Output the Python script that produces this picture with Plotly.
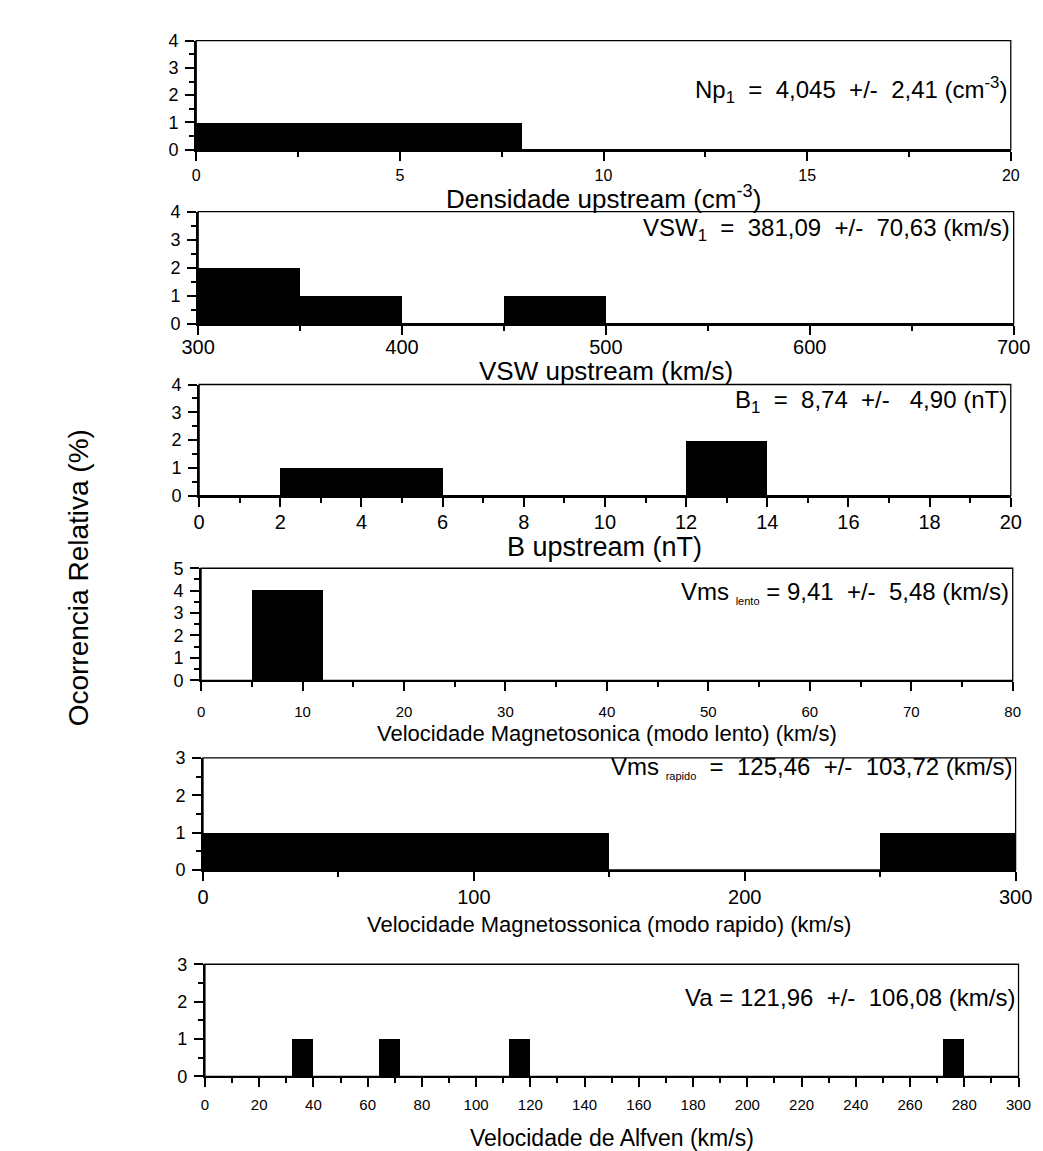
import plotly.graph_objects as go

W, H = 1043, 1151

# ---------------- data (histogram bins: left edge, right edge, count) ----------------
np_lo = [0]
np_hi = [8]
np_cnt = [1]

vsw_lo = [300, 350, 450]
vsw_hi = [350, 400, 500]
vsw_cnt = [2, 1, 1]

b_lo = [2, 12]
b_hi = [6, 14]
b_cnt = [1, 2]

vl_lo = [5]
vl_hi = [12]
vl_cnt = [4]

vr_lo = [0, 250]
vr_hi = [150, 300]
vr_cnt = [1, 1]

va_lo = [32, 64, 112, 272]
va_hi = [40, 72, 120, 280]
va_cnt = [1, 1, 1, 1]

x_titles = [
    "Densidade upstream (cm<sup>-3</sup>)",
    "VSW upstream (km/s)",
    "B upstream (nT)",
    "Velocidade Magnetosonica (modo lento) (km/s)",
    "Velocidade Magnetossonica (modo rapido) (km/s)",
    "Velocidade de Alfven (km/s)",
]
stat_texts = [
    "Np<sub>1</sub>  =  4,045  +/-  2,41 (cm<sup>-3</sup>)",
    "VSW<sub>1</sub>  =  381,09  +/-  70,63 (km/s)",
    "B<sub>1</sub>  =  8,74  +/-   4,90 (nT)",
    "Vms <sub><span style='font-size:11px'>lento</span></sub> = 9,41  +/-  5,48 (km/s)",
    "Vms <sub><span style='font-size:11px'>rapido</span></sub>  =  125,46  +/-  103,72 (km/s)",
    "Va = 121,96  +/-  106,08 (km/s)",
]
y_title = "Ocorrencia Relativa (%)"

x_ranges = [(0, 20), (300, 700), (0, 20), (0, 80), (0, 300), (0, 300)]
x_dticks = [5, 100, 2, 10, 100, 20]
x_minor = [2.5, 50, 1, 5, 50, 10]
y_max = [4, 4, 4, 5, 3, 3]
stat_y = [2.2, 3.35, 3.4, 3.9, 2.75, 2.1]

series = [
    (np_lo, np_hi, np_cnt),
    (vsw_lo, vsw_hi, vsw_cnt),
    (b_lo, b_hi, b_cnt),
    (vl_lo, vl_hi, vl_cnt),
    (vr_lo, vr_hi, vr_cnt),
    (va_lo, va_hi, va_cnt),
]

# ---------------- layout geometry (pixels) ----------------
boxes = [  # left, right, top, bottom
    (177, 1019, 23, 134),
    (179, 1022, 197, 311),
    (180, 1019, 373, 486),
    (182, 1021, 560, 674),
    (184, 1024, 753, 867),
    (186, 1027, 963, 1077),
]
tick_font = [16, 20, 20, 15, 20, 15]
tick_standoff = [1, -5, -2, 8, -1, 5]
title_y = [183, 359, 538, 728, 923, 1140]
title_size = [26, 26, 27, 22, 22, 23]

FONT = "Liberation Sans, Arial, sans-serif"

fig = go.Figure()
layout = dict(
    width=W, height=H,
    margin=dict(l=0, r=0, t=0, b=0),
    paper_bgcolor="white", plot_bgcolor="white",
    showlegend=False,
    font=dict(family=FONT, color="black"),
    bargap=0,
)
annotations = []
shapes = []

for i, ((lo, hi, cnt), (l, r, t, b)) in enumerate(zip(series, boxes)):
    n = i + 1
    xs = "x" if n == 1 else f"x{n}"
    ys = "y" if n == 1 else f"y{n}"
    centers = [(a + c) / 2 for a, c in zip(lo, hi)]
    widths = [c - a for a, c in zip(lo, hi)]
    fig.add_trace(go.Bar(
        x=centers, y=cnt, width=widths,
        marker=dict(color="black", line=dict(width=0)),
        xaxis=xs, yaxis=ys, hoverinfo="skip",
    ))
    xa = "xaxis" if n == 1 else f"xaxis{n}"
    ya = "yaxis" if n == 1 else f"yaxis{n}"
    layout[xa] = dict(
        domain=[l / W, r / W], anchor=ys,
        range=list(x_ranges[i]), tick0=x_ranges[i][0], dtick=x_dticks[i],
        showgrid=False, zeroline=False,
        showline=True, linecolor="black", linewidth=2,
        ticks="outside", ticklen=9, tickwidth=2, tickcolor="black",
        minor=dict(dtick=x_minor[i], ticks="outside", ticklen=5, tickwidth=1.5, tickcolor="black", showgrid=False),
        tickfont=dict(family=FONT, size=tick_font[i], color="black"),
        ticklabelstandoff=tick_standoff[i],
        fixedrange=True,
    )
    layout[ya] = dict(
        domain=[1 - b / H, 1 - t / H], anchor=xs,
        range=[0, y_max[i]], tick0=0, dtick=1,
        showgrid=False, zeroline=False,
        showline=True, linecolor="black", linewidth=2,
        ticks="outside", ticklen=9, tickwidth=2, tickcolor="black",
        minor=dict(dtick=0.5, ticks="outside", ticklen=5, tickwidth=1.5, tickcolor="black", showgrid=False),
        tickfont=dict(family=FONT, size=18, color="black"),
        ticklabelstandoff=3,
        fixedrange=True,
    )
    shapes.append(dict(type="rect", xref=f"{xs} domain", yref=f"{ys} domain",
                       x0=0, x1=1, y0=0, y1=1, line=dict(color="black", width=1.3), layer="above"))
    annotations.append(dict(
        text=stat_texts[i], xref=f"{xs} domain", x=0.998, xanchor="right",
        yref=ys, y=stat_y[i], yanchor="middle", showarrow=False,
        font=dict(family=FONT, size=24, color="black"),
    ))
    annotations.append(dict(
        text=x_titles[i], xref="paper", x=((l + r) / 2) / W, xanchor="center",
        yref="paper", y=1 - title_y[i] / H, yanchor="middle", showarrow=False,
        font=dict(family=FONT, size=title_size[i], color="black"),
    ))

annotations.append(dict(
    text=y_title, xref="paper", x=55 / W, xanchor="center",
    yref="paper", y=1 - 570 / H, yanchor="middle", showarrow=False, textangle=-90,
    font=dict(family=FONT, size=28, color="black"),
))

layout["annotations"] = annotations
layout["shapes"] = shapes
fig.update_layout(**layout)
fig.write_html("out.html")
